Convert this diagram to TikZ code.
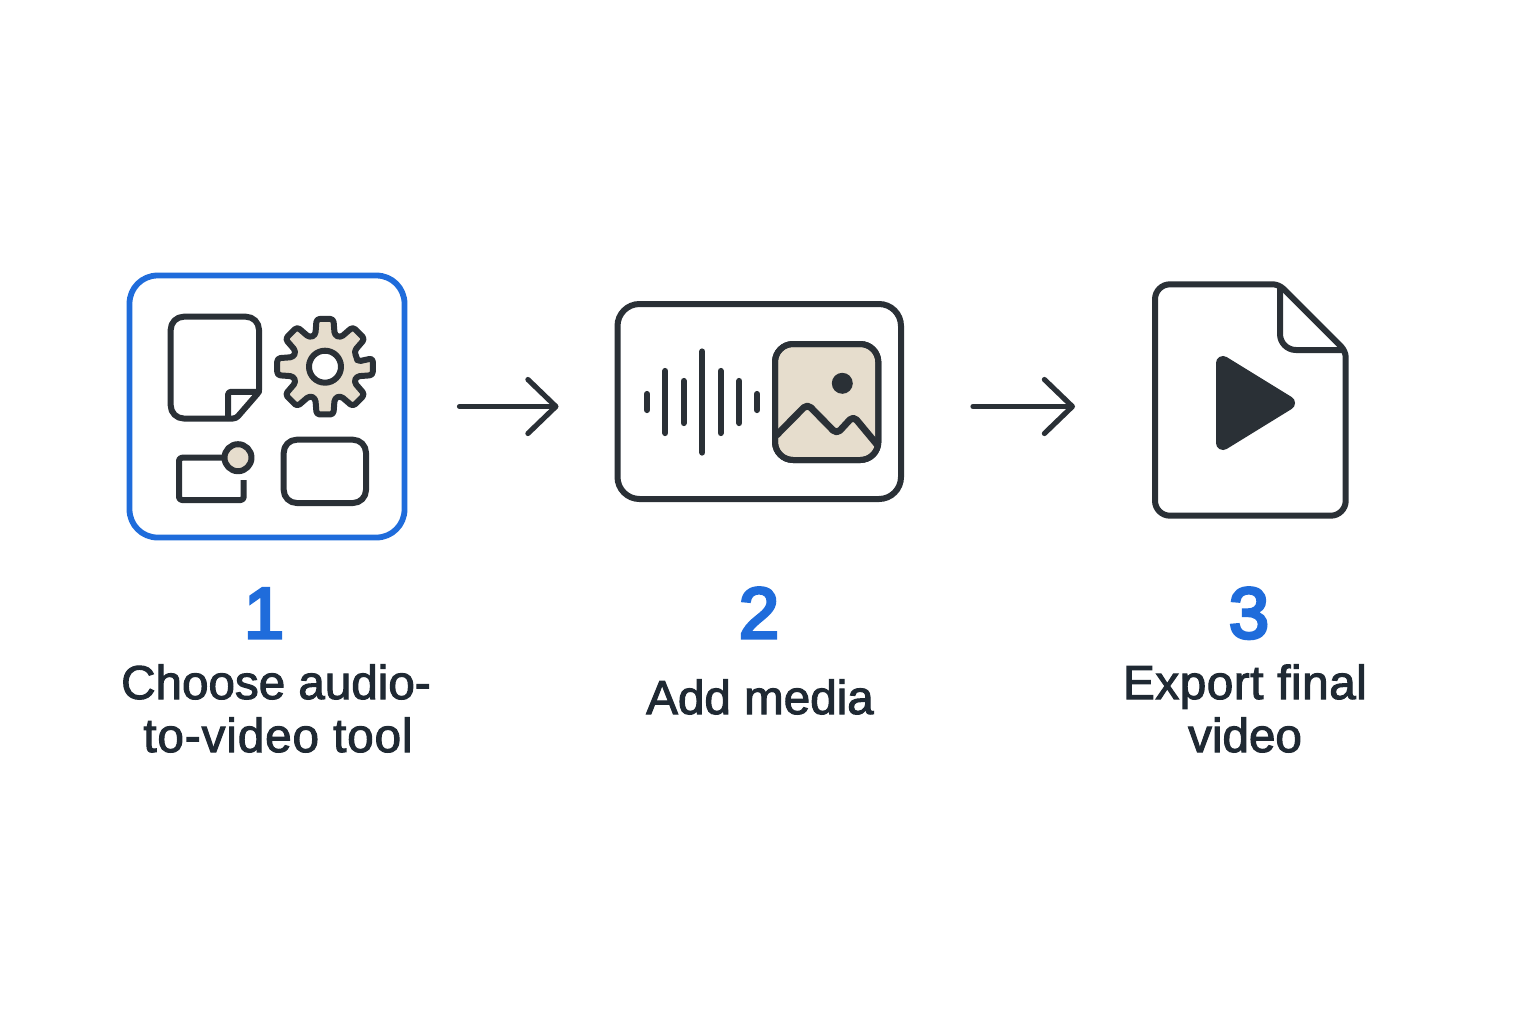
\documentclass[tikz,border=0pt]{standalone}
\usepackage{fontspec}
\usetikzlibrary{arrows.meta,calc}
\setmainfont{Liberation Sans}
\newfontfamily\lblfont[FakeBold=2.2]{Liberation Sans}
\newfontfamily\numfont[FakeBold=4.5]{Liberation Sans}
\definecolor{ink}{HTML}{2A3036}
\definecolor{txt}{HTML}{1F2933}
\definecolor{blu}{HTML}{1F6CDB}
\definecolor{sand}{HTML}{E6DDCD}
\tikzset{
  x=0.5pt,y=-0.5pt,
  icon/.style={draw=ink,line width=3pt,line join=round,line cap=round},
  anchorbox/.style={inner sep=0pt,outer sep=0pt,draw=none},
  stepbox/.style={anchorbox,draw=blu,line width=2.9pt,rounded corners=14pt},
  cardbox/.style={anchorbox,draw=ink,line width=3pt,rounded corners=11pt},
  flow/.style={draw=ink,line width=2.6pt,line cap=round,line join=round,-{Straight Barb[length=14pt,width=27pt,line width=2.6pt,round]}},
  lbl/.style={anchor=base,text=txt,font=\lblfont\fontsize{23.8}{27}\selectfont,inner sep=0pt},
  num/.style={anchor=base,text=blu,font=\numfont\fontsize{36}{40}\selectfont,inner sep=0pt}
}
\begin{document}
\begin{tikzpicture}
\useasboundingbox (0,0) rectangle (1536,1024);
\fill[white] (0,0) rectangle (1536,1024);
% step boxes
\node[stepbox,minimum width=137.5pt,minimum height=131pt] (tool) at (267,406.5) {};
\node[cardbox,minimum width=141.75pt,minimum height=97.5pt] (media) at (759.25,401.5) {};
\node[anchorbox,minimum width=95.35pt,minimum height=115.7pt] (file) at (1250.35,400) {};
% icon 1: note
\draw[icon,rounded corners=6.5pt] (200,316.7) -- (259,316.7) [rounded corners=1pt] -- (259,392) [rounded corners=1.5pt] -- (236,418.5) [rounded corners=6.5pt] -- (170.7,418.5) -- (170.7,316.7) -- cycle;
\draw[icon,rounded corners=1.5pt] (228,418) -- (228,391.8) -- (259,391.8);
% icon 1: gear
\draw[icon,fill=sand,rounded corners=1.6pt]
  (325,366.7) ++(-9:33)
  foreach \a in {0,45,...,315} {
    -- ($(325,366.7)+(\a-10:48.5)$) -- ($(325,366.7)+(\a+10:48.5)$) -- ($(325,366.7)+(\a+17:33)$) -- ($(325,366.7)+(\a+28:33)$)
  } -- cycle;
\draw[icon,fill=white] (325,366.7) circle[radius=16];
% icon 1: small frame
\draw[icon,line cap=butt,rounded corners=1.5pt] (243.7,480) -- (243.7,500) -- (179,500) -- (179,457.7) -- (226,457.7);
\draw[icon,fill=sand] (238,457.7) circle[radius=13.5];
% icon 1: small rect
\draw[icon,rounded corners=6.5pt] (283.7,439.7) rectangle (366,503);
% icon 2: wave
\foreach \x/\t/\b in {647/394/410,665.3/371/433,683.7/381/423,702.3/351.5/452.5,720.7/371/433,739.3/381/423,757/394/410}
  \draw[icon,line width=3.1pt] (\x,\t) -- (\x,\b);
% icon 2: picture
\draw[icon,fill=sand,rounded corners=9pt] (775,344) rectangle (878.3,460);
\fill[ink] (842.3,383.3) circle[radius=10.5];
\draw[icon,line width=3.4pt,rounded corners=2.5pt] (776.7,435) -- (807.3,404) -- (836.7,434) -- (853.3,416) -- (877,444.5);
\draw[icon,rounded corners=9pt] (775,344) rectangle (878.3,460);
% icon 3: file
\draw[icon,rounded corners=7.5pt] (1200,284.3) [rounded corners=3pt] -- (1278.8,284.3) -- (1345.7,351.2) [rounded corners=7.5pt] -- (1345.7,515.7) -- (1155,515.7) -- (1155,284.3) -- cycle;
\draw[icon,rounded corners=8pt] (1280,287) -- (1280,350) -- (1342,350);
\draw[draw=ink,fill=ink,line width=7pt,line join=round] (1223,363) -- (1288,403) -- (1223,443) -- cycle;
% connectors
\draw[flow,shorten <=27.5pt,shorten >=29.5pt] (tool.east) -- (tool.east -| media.west);
\draw[flow,shorten <=36pt,shorten >=40pt] (media.east |- tool.east) -- (tool.east -| file.west);
% labels
\node[num] (n1) at (264,638) {1};
\node[lbl] (t1a) at (276,699) {Choose audio-};
\node[lbl] (t1b) at (278,752) {\addfontfeature{LetterSpace=1.9}to-video tool};
\node[num] (n2) at (759,638) {2};
\node[lbl] (t2) at (760,714) {Add media};
\node[num] (n3) at (1249,638) {3};
\node[lbl] (t3a) at (1245,699) {\addfontfeature{LetterSpace=1.2}Export final};
\node[lbl] (t3b) at (1245,752) {video};
\end{tikzpicture}
\end{document}
